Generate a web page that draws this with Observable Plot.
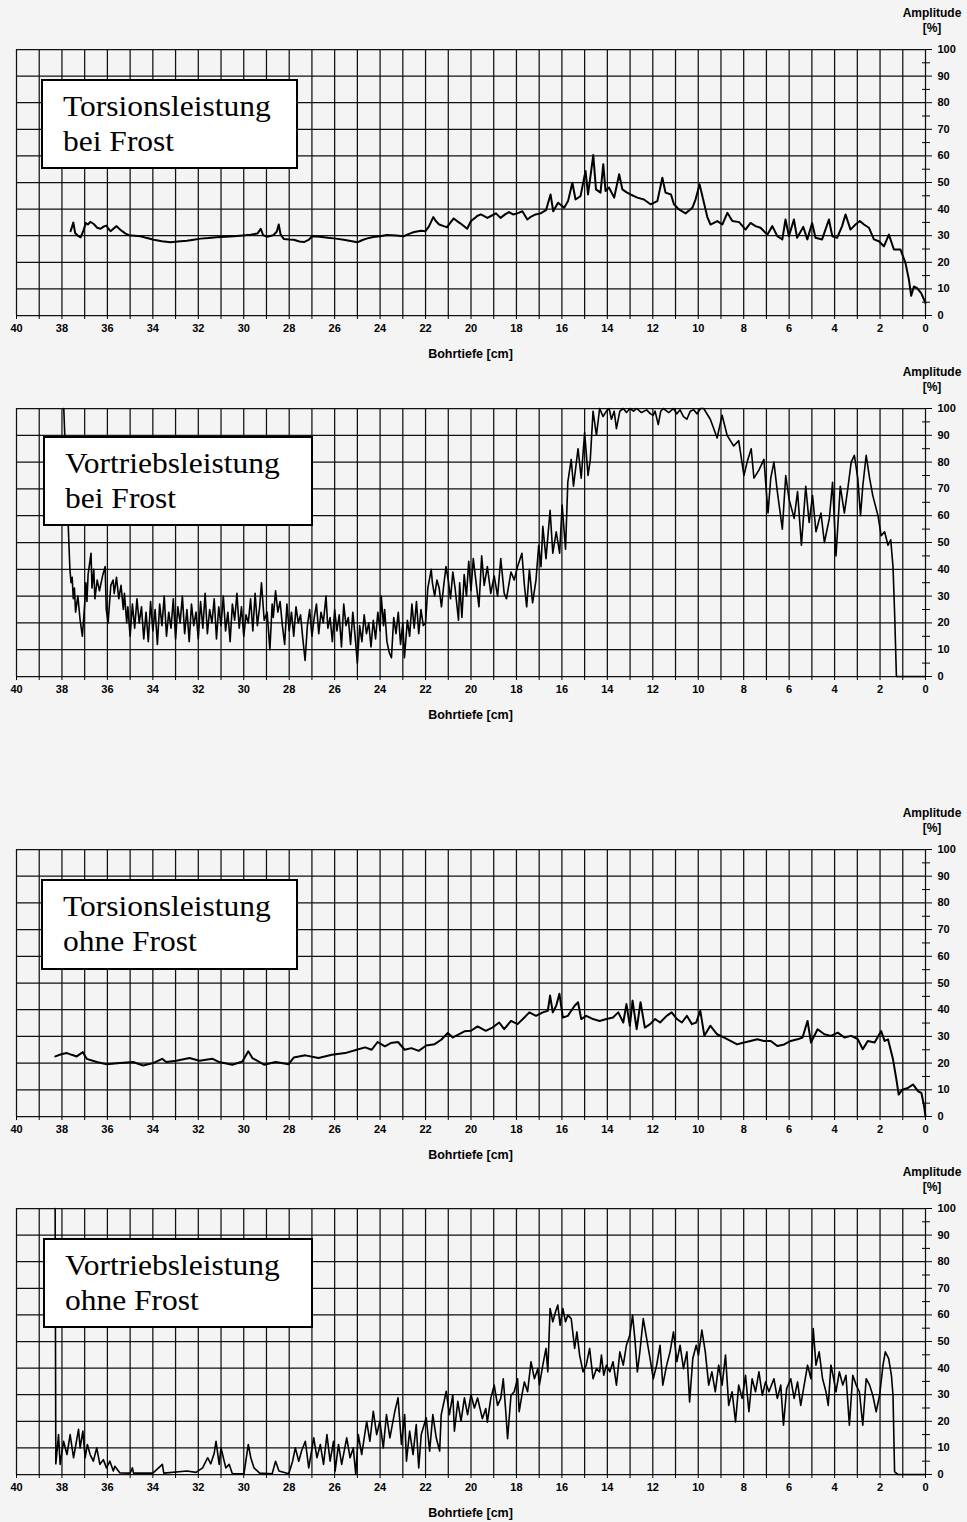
<!DOCTYPE html>
<html>
<head>
<meta charset="utf-8">
<script src="https://cdn.jsdelivr.net/npm/d3@7"></script>
<script src="https://cdn.jsdelivr.net/npm/@observablehq/plot@0.6"></script>
<style>
  html, body { margin: 0; padding: 0; background: #f4f4f4; }
  #page { position: relative; width: 967px; height: 1522px; overflow: hidden; background: #f4f4f4; }
  .panel { position: absolute; left: 0; }
  .box { position: absolute; box-sizing: border-box; border: 2.5px solid #000; background: #fff;
         font-family: "Liberation Serif", "Times New Roman", serif; font-size: 30px; line-height: 35px;
         color: #000; padding: 7.2px 0 0 19.5px; white-space: nowrap; }
  .box div { transform: scaleX(1.05); transform-origin: left center; }
  .amp { position: absolute; width: 80px; text-align: center; font-family: "Liberation Sans", Arial, sans-serif;
         font-weight: bold; font-size: 12px; line-height: 15px; color: #000; }
  .xlab { position: absolute; width: 200px; text-align: center; font-family: "Liberation Sans", Arial, sans-serif;
          font-weight: bold; font-size: 12.5px; line-height: 14px; color: #000; }
</style>
</head>
<body>
<div id="page"></div>
<script>
// ---------------- data ----------------
const xTicks = [40,39,38,37,36,35,34,33,32,31,30,29,28,27,26,25,24,23,22,21,20,19,18,17,16,15,14,13,12,11,10,9,8,7,6,5,4,3,2,1,0];
const xLabelTicks = [40,38,36,34,32,30,28,26,24,22,20,18,16,14,12,10,8,6,4,2,0];
const yTicks = [0,10,20,30,40,50,60,70,80,90,100];
const yMinorTicks = [5,15,25,35,45,55,65,75,85,95];
const xTitle = "Bohrtiefe [cm]";
const yTitle = ["Amplitude", "[%]"];
const panelTitles = [
  ["Torsionsleistung", "bei Frost"],
  ["Vortriebsleistung", "bei Frost"],
  ["Torsionsleistung", "ohne Frost"],
  ["Vortriebsleistung", "ohne Frost"]
];

// [Bohrtiefe cm, Amplitude %]
const torsionFrost = [[37.62,31.7],[37.55,33.5],[37.5,35],[37.42,31],[37.3,30],[37.18,29.4],[37.05,32],[36.95,34.8],[36.86,34.2],[36.75,35.2],[36.6,34.4],[36.45,33],[36.3,32.6],[36.15,33.5],[36.04,33.8],[35.95,32.5],[35.86,31.7],[35.75,32.5],[35.6,33.6],[35.48,32.6],[35.35,31.7],[35.2,30.8],[35.06,30.2],[34.8,30],[34.55,29.8],[34.25,29.1],[33.96,28.5],[33.6,27.9],[33.23,27.5],[32.9,27.8],[32.5,28.1],[32.2,28.5],[31.9,28.9],[31.55,29.1],[31.2,29.4],[30.8,29.6],[30.43,29.8],[30.05,30.1],[29.7,30.4],[29.4,30.8],[29.25,32.6],[29.15,30.2],[28.97,29.6],[28.7,30.2],[28.55,31.5],[28.46,34.2],[28.38,30.5],[28.24,28.8],[28.0,28.6],[27.8,28.5],[27.55,27.8],[27.35,27.6],[27.15,28.4],[26.99,29.8],[26.65,29.6],[26.3,29.2],[25.95,28.9],[25.6,28.5],[25.3,28.0],[25.0,27.5],[24.8,28.3],[24.6,28.9],[24.3,29.5],[24.0,29.8],[23.7,30.3],[23.3,30.1],[22.96,29.8],[22.7,30.8],[22.5,31.4],[22.2,31.9],[22.0,31.7],[21.85,33.5],[21.66,37.0],[21.55,35.5],[21.4,34.2],[21.2,33.6],[21.05,33.2],[20.9,35.0],[20.76,36.5],[20.6,35.4],[20.4,34.2],[20.17,32.6],[20.0,35.5],[19.85,36.5],[19.73,37.4],[19.57,38],[19.4,37.3],[19.28,36.7],[19.1,37.5],[18.9,38.4],[18.7,36.7],[18.5,38.0],[18.33,38.9],[18.15,38.0],[17.96,38.4],[17.74,39.2],[17.52,36.1],[17.35,37.2],[17.16,38.0],[16.94,38.4],[16.7,39.6],[16.5,45.5],[16.38,39.2],[16.17,42.4],[15.9,40.5],[15.73,43.0],[15.54,49.9],[15.4,43.6],[15.18,44.9],[14.96,54.3],[14.85,45.5],[14.62,60.3],[14.5,47.4],[14.3,46.2],[14.18,56.9],[14.08,46.8],[13.93,48.1],[13.7,44.3],[13.48,53.1],[13.34,47.4],[13.15,46.3],[12.98,45.5],[12.68,44.3],[12.39,43.6],[12.1,41.8],[11.8,43.0],[11.58,51.8],[11.44,46.2],[11.2,45.5],[11.07,41.8],[10.85,39.9],[10.56,38.4],[10.26,40.5],[10.12,43.6],[9.94,49.3],[9.75,42.4],[9.6,37.0],[9.46,34.2],[9.16,35.5],[8.94,34.2],[8.72,38.6],[8.5,35.5],[8.2,35.1],[7.92,32.3],[7.7,34.8],[7.48,33.6],[7.26,33.0],[6.96,30.4],[6.74,33.6],[6.52,29.8],[6.3,28.6],[6.16,36.1],[6.01,29.8],[5.79,36.1],[5.65,29.2],[5.38,33.3],[5.2,28.6],[4.99,34.8],[4.84,29.2],[4.55,28.6],[4.25,36.1],[4.1,29.8],[3.89,29.2],[3.67,33.6],[3.52,38.0],[3.3,32.3],[3.08,34.2],[2.89,35.5],[2.71,34.2],[2.49,33.0],[2.27,28.6],[2.05,27.9],[1.83,26.0],[1.61,30.4],[1.39,24.8],[1.1,24.8],[0.88,19.7],[0.73,13.5],[0.63,7.4],[0.51,10.9],[0.37,10.3],[0.19,8.4],[0.0,4.7]];

const vortriebFrost = [[37.92,100],[37.65,40],[37.6,35],[37.55,37],[37.5,29],[37.45,33],[37.4,24],[37.3,30],[37.2,21],[37.1,15],[37.0,27],[36.95,35],[36.9,28],[36.85,38],[36.72,46],[36.68,33],[36.6,40],[36.55,29],[36.45,36],[36.35,32],[36.2,38],[36.1,41],[36.05,25],[35.97,20],[35.85,34],[35.75,36],[35.7,31],[35.6,37],[35.5,29],[35.4,34],[35.3,25],[35.25,31],[35.15,20],[35.1,26],[35.0,15],
[34.9,27],[34.8,18],[34.7,29],[34.6,20],[34.5,26],[34.4,14],[34.3,24],[34.2,13],[34.1,28],[34.0,17],[33.9,25],[33.8,12],[33.7,27],[33.6,19],[33.5,30],[33.4,15],[33.3,24],[33.2,18],[33.1,29],[33.0,14],[32.9,26],[32.8,20],[32.7,30],[32.6,16],[32.5,25],[32.4,13],[32.3,27],[32.2,19],[32.1,24],[32.0,14],[31.9,28],[31.8,18],[31.7,31],[31.6,16],[31.5,25],[31.4,20],[31.3,29],[31.2,14],[31.1,26],[31.0,19],[30.9,30],[30.8,17],[30.7,24],[30.6,13],[30.5,27],[30.4,21],[30.3,31],[30.2,18],[30.1,26],[30.0,15],[29.9,23],[29.8,20],[29.7,29],[29.6,17],[29.5,31],[29.4,19],[29.3,26],[29.22,35],[29.1,21],[28.97,24],[28.85,10],[28.75,27],[28.7,22],[28.6,32],[28.5,24],[28.4,28],[28.3,19],[28.2,12],[28.1,27],[28.0,17],[27.9,24],[27.8,15],[27.7,26],[27.6,20],[27.5,23],[27.4,14],[27.3,6],[27.2,19],[27.1,25],[27.0,15],[26.9,22],[26.8,27],[26.7,16],[26.6,24],[26.5,20],[26.38,30],[26.3,18],[26.2,22],[26.1,13],[26.0,25],[25.9,17],[25.8,23],[25.7,11],[25.6,27],[25.5,19],[25.4,22],[25.3,12],[25.2,24],[25.1,15],[25.0,5],[24.9,19],[24.8,13],[24.7,23],[24.6,16],[24.5,20],[24.4,11],[24.3,21],[24.2,14],[24.1,24],[24.0,17],[23.95,30],[23.85,19],[23.8,25],[23.7,13],[23.6,9],[23.5,7],[23.4,22],[23.3,16],[23.2,24],[23.1,12],[23.0,20],[22.93,7],[22.8,21],[22.7,15],[22.6,27],[22.5,18],[22.4,28],[22.3,16],[22.2,25],[22.1,19],[22.0,20],[21.9,33],[21.75,40],[21.7,35],[21.6,30],[21.5,36],[21.4,33],[21.3,26],[21.2,34],[21.1,41],[21.0,36],[20.9,29],[20.8,39],[20.7,33],[20.55,21],[20.5,35],[20.4,22],[20.3,38],[20.2,30],[20.1,43],[20.0,32],[19.9,44],
[19.65,26],[19.53,45],[19.42,34],[19.28,41],[19.13,31],[18.98,37.5],[18.83,30],[18.69,44],[18.54,31],[18.44,29],[18.24,39],[18.1,36],[17.95,41],[17.76,46],[17.65,34],[17.55,26],[17.43,40],[17.29,27.5],[17.14,36],[17.02,49],[16.92,41],[16.84,56],[16.7,44],[16.52,62],[16.4,46],[16.25,54],[16.1,46],[15.99,64],[15.84,47.5],[15.74,72.5],[15.59,81],[15.49,71],[15.29,85],[15.15,74],[15.0,91],[14.85,75],[14.75,81],[14.63,99],[14.48,90],[14.34,100],[14.19,97],[14.04,99],[13.92,100],[13.82,96],[13.7,99],[13.6,92.5],[13.45,99],[13.3,100],[13.16,98.5],[13.0,100],[12.85,99],[12.71,100],[12.5,98.5],[12.27,99.5],[12.1,98],[11.98,97.5],[11.9,99],[11.76,94],[11.65,99],[11.53,100],[11.3,98.5],[11.09,100],[10.95,98],[10.8,99.5],[10.65,97],[10.5,96],[10.35,99],[10.2,99.5],[10.05,98],[9.9,100],[9.76,100],[9.47,96],[9.32,92.5],[9.17,89],[8.95,97.5],[8.73,90],[8.44,86],[8.22,88],[7.99,75],[7.85,80],[7.67,85],[7.55,74],[7.33,77],[7.11,81],[6.93,61],[6.81,74],[6.67,80],[6.52,69],[6.3,55],[6.15,75],[6.0,66],[5.78,59],[5.63,69],[5.46,49],[5.27,71],[5.12,57.5],[4.97,67.5],[4.82,54],[4.6,61],[4.45,50],[4.23,59],[4.09,72.5],[3.94,45],[3.75,71],[3.57,61],[3.42,70],[3.27,80],[3.13,82.5],[2.98,74],[2.86,60],[2.76,71],[2.61,82.5],[2.46,74],[2.32,67.5],[2.09,60],[1.95,52.5],[1.8,54],[1.65,49],[1.53,51],[1.43,41],[1.36,24],[1.28,0],[0.0,0]];

const torsionOhne = [[38.29,22.5],[38.0,23.4],[37.78,23.75],[37.57,23.1],[37.35,22.5],[37.08,24.1],[36.91,21.6],[36.47,20.4],[36.03,19.6],[35.45,20],[34.87,20.4],[34.43,19.1],[33.99,20],[33.59,21.6],[33.41,20.4],[32.97,20.9],[32.39,21.9],[31.95,20.9],[31.37,21.6],[31.08,20.4],[30.5,19.4],[30.06,20.6],[29.8,24.4],[29.62,21.9],[29.11,19.4],[28.6,20.4],[28.02,19.6],[27.8,22.1],[27.29,22.9],[26.71,21.9],[26.12,23.1],[25.54,23.75],[25.03,25],[24.66,25.9],[24.37,25],[24.11,27.9],[23.79,26.3],[23.53,27.5],[23.21,27.9],[22.92,25],[22.62,25.6],[22.3,24.6],[21.97,26.6],[21.6,27.1],[21.31,28.75],[21.02,31.25],[20.8,29.6],[20.58,30.6],[20.29,31.9],[20.0,32.1],[19.71,33.75],[19.35,32.1],[19.06,33.3],[18.76,35.2],[18.54,32.7],[18.24,35.8],[17.95,34.6],[17.65,37.1],[17.43,39.0],[17.14,37.7],[16.84,39.0],[16.62,39.6],[16.52,45.3],[16.4,39.0],[16.25,41.5],[16.11,46.0],[15.96,37.1],[15.74,37.7],[15.44,41.5],[15.29,42.8],[15.15,36.5],[14.93,37.7],[14.63,36.5],[14.34,35.8],[14.04,36.5],[13.75,37.1],[13.52,39.0],[13.3,35.2],[13.16,42.1],[13.01,34.0],[12.89,43.4],[12.71,32.7],[12.54,42.8],[12.35,33.3],[12.12,34.6],[11.9,36.5],[11.68,35.2],[11.39,37.7],[11.17,39.0],[10.94,36.5],[10.72,35.2],[10.5,37.7],[10.28,34.6],[10.09,35.2],[9.91,39.6],[9.73,30.2],[9.47,34.0],[9.17,30.8],[8.88,29.6],[8.58,28.3],[8.29,27.0],[7.99,27.7],[7.7,28.3],[7.4,28.9],[7.11,28.3],[6.81,28.3],[6.52,26.4],[6.22,27.0],[5.93,28.3],[5.63,28.9],[5.41,29.6],[5.19,35.8],[5.04,27.7],[4.75,32.7],[4.45,30.8],[4.16,30.2],[3.86,31.4],[3.57,29.6],[3.27,30.2],[2.98,29.0],[2.76,25.2],[2.54,28.3],[2.24,27.7],[1.95,32.0],[1.8,28.3],[1.65,28.9],[1.43,21.4],[1.28,13.8],[1.18,8.2],[1.03,10],[0.77,10.7],[0.55,12.0],[0.32,9.4],[0.18,8.8],[0.06,3.8],[0.0,0]];

const vortriebOhne = [[38.3,100],[38.27,4],[38.15,15],[38.08,3.8],[37.93,12.5],[37.78,7.5],[37.64,15],[37.49,6.3],[37.27,17.0],[37.2,10],[37.08,16.3],[36.98,6.3],[36.88,11.3],[36.76,7.5],[36.62,5],[36.47,10],[36.33,3.8],[36.18,5.6],[36.04,2.5],[35.89,5],[35.74,1.3],[35.67,3.1],[35.45,0.6],[35.0,0.5],[34.9,2.5],[34.85,0.5],[34.0,0.5],[33.58,3.8],[33.52,0.5],[32.5,1.3],[32.1,0.8],[31.81,2.5],[31.59,6.3],[31.45,4],[31.3,8],[31.22,12.5],[31.08,3.8],[31.0,10],[30.79,2.5],[30.64,3.8],[30.5,0.3],[29.99,0.3],[29.8,11.3],[29.69,6.3],[29.55,2.5],[29.3,0.5],[28.75,0.3],[28.6,5],[28.45,1.3],[28.02,0.3],[27.85,5],[27.73,10],[27.58,5],[27.45,9],[27.29,12.5],[27.14,2.5],[26.92,13.8],[26.78,6.3],[26.63,11.3],[26.49,3.8],[26.34,15],[26.2,5],[26.05,12.5],[25.98,1.3],[25.83,11.3],[25.69,3.8],[25.47,13.8],[25.32,6.3],[25.18,10],[25.07,0],[24.96,15],[24.81,7.5],[24.59,20],[24.45,12.5],[24.3,23.8],[24.15,15],[24.01,20],[23.86,10],[23.72,22.5],[23.57,13.8],[23.35,23.8],[23.21,28.8],[23.06,11.3],[22.92,22.5],[22.84,5],[22.7,16.3],[22.55,7.5],[22.41,18.8],[22.3,2.5],[22.19,15],[21.97,21.3],[21.82,8.8],[21.68,22.5],[21.53,13.8],[21.38,8.8],[21.31,22.5],[21.09,31.3],[20.95,22.5],[20.8,30],[20.73,16.3],[20.58,27.5],[20.44,20],[20.29,28.8],[20.15,22.5],[20.0,30],[19.85,25],[19.71,28.8],
[19.5,21],[19.35,24.8],[19.28,19.7],[19.13,28.6],[18.98,33.6],[18.83,26],[18.69,28.6],[18.58,36],[18.47,23.6],[18.39,13.5],[18.24,29.8],[18.1,31.1],[17.95,36],[17.88,23.6],[17.76,29.8],[17.65,34.8],[17.51,31.1],[17.36,42.4],[17.21,36],[17.06,39.8],[16.99,33.6],[16.84,41.1],[16.7,47.4],[16.62,38.6],[16.52,62.4],[16.4,57.4],[16.28,61.2],[16.18,63.7],[16.08,56.1],[15.96,62.4],[15.84,57.4],[15.74,59.9],[15.59,58.6],[15.44,47.4],[15.34,53.6],[15.22,44.9],[15.07,38.6],[14.93,41.1],[14.78,47.4],[14.63,36],[14.48,39.8],[14.34,38.6],[14.26,44.9],[14.16,37.3],[14.04,41.1],[13.89,38.6],[13.75,42.4],[13.6,33.6],[13.45,46.1],[13.3,41.1],[13.16,48.6],[13.01,52.4],[12.89,59.9],[12.79,51.1],[12.68,38.6],[12.57,46.1],[12.42,58.6],[12.27,51.1],[12.12,43.6],[11.98,36],[11.83,41.1],[11.68,48.6],[11.56,33.6],[11.39,41.1],[11.24,46.1],[11.09,53.6],[10.94,42.4],[10.8,48.6],[10.65,39.8],[10.5,46.1],[10.38,27.3],[10.24,43.6],[10.09,48.6],[9.99,44.9],[9.84,54.3],[9.69,46.1],[9.54,33.6],[9.4,38.6],[9.25,31.1],[9.1,41.1],[8.95,33.6],[8.8,44.9],[8.66,26],[8.51,31.1],[8.36,19.8],[8.22,33.6],[8.07,28.6],[7.92,37.3],[7.77,23.6],[7.63,36],[7.48,31.1],[7.33,38.6],[7.18,29.8],[7.04,34.8],[6.89,31.1],[6.67,36],[6.52,28.6],[6.37,33.6],[6.25,18.5],[6.11,32.3],[5.93,36],[5.78,28.6],[5.63,34.8],[5.49,26],[5.34,33.6],[5.19,41.1],[5.04,36],[4.94,54.9],[4.82,41.1],[4.68,46.1],[4.53,36],[4.38,31.1],[4.28,26],[4.16,41.1],[4.04,36],[3.94,31.1],[3.79,38.6],[3.64,33.6],[3.5,37.3],[3.35,18.5],[3.2,37.3],[3.05,33.6],[2.91,31.1],[2.76,18.5],[2.61,36],[2.46,33.6],[2.32,29.8],[2.17,23.6],[2.02,29.8],[1.87,41.1],[1.77,46.1],[1.62,43.6],[1.5,37.3],[1.43,29.8],[1.36,1],[1.21,0],[0.0,0]];

// ---------------- layout ----------------
const panels = [
  {data: torsionFrost,  title: panelTitles[0], top: 49,   bottom: 315,  box: {left: 41, top: 79,   w: 257, h: 90}, sw: 2.0},
  {data: vortriebFrost, title: panelTitles[1], top: 408,  bottom: 676,  box: {left: 43, top: 436,  w: 270, h: 90}, sw: 1.6},
  {data: torsionOhne,   title: panelTitles[2], top: 849,  bottom: 1116, box: {left: 41, top: 879,  w: 257, h: 91}, sw: 2.0},
  {data: vortriebOhne,  title: panelTitles[3], top: 1208, bottom: 1474, box: {left: 43, top: 1238, w: 270, h: 90}, sw: 1.6}
];

const page = document.getElementById("page");
const MT = 45, MB = 47, ML = 16, MR = 42;
const gridStyle = {stroke: "#111", strokeOpacity: 1, strokeWidth: 1.25};

for (const p of panels) {
  const chart = Plot.plot({
    width: 967,
    height: MT + (p.bottom - p.top) + MB,
    marginTop: MT, marginBottom: MB, marginLeft: ML, marginRight: MR,
    x: {type: "linear", domain: [40, 0]},
    y: {type: "linear", domain: [0, 100]},
    style: {background: "transparent", fontFamily: "'Liberation Sans', Arial, sans-serif", color: "#000", overflow: "visible"},
    marks: [
      Plot.gridX(xTicks, gridStyle),
      Plot.gridY(yTicks, gridStyle),
      Plot.axisX(xTicks, {anchor: "bottom", tickSize: 4, tickPadding: 5, fontSize: 11, fontWeight: "bold",
        tickFormat: d => xLabelTicks.includes(d) ? String(d) : "", label: null}),
      Plot.axisY(yTicks, {anchor: "right", tickSize: 6, tickPadding: 6, fontSize: 11, fontWeight: "bold", label: null}),
      Plot.axisY(yMinorTicks, {anchor: "right", tickSize: 8, dx: -4, tickFormat: () => "", label: null}),
      Plot.line(p.data, {x: d => d[0], y: d => d[1], stroke: "#000", strokeWidth: p.sw, strokeLinejoin: "round"})
    ]
  });
  chart.classList.add("panel");
  chart.style.top = (p.top - MT) + "px";
  page.appendChild(chart);

  const box = document.createElement("div");
  box.className = "box";
  box.style.left = p.box.left + "px";
  box.style.top = p.box.top + "px";
  box.style.width = p.box.w + "px";
  box.style.height = p.box.h + "px";
  box.innerHTML = p.title.map(t => `<div>${t}</div>`).join("");
  page.appendChild(box);

  const amp = document.createElement("div");
  amp.className = "amp";
  amp.style.left = (932 - 40) + "px";
  amp.style.top = (p.top - 43) + "px";
  amp.innerHTML = yTitle.map(t => `<div>${t}</div>`).join("");
  page.appendChild(amp);

  const xl = document.createElement("div");
  xl.className = "xlab";
  xl.style.left = (470.5 - 100) + "px";
  xl.style.top = (p.bottom + 32) + "px";
  xl.textContent = xTitle;
  page.appendChild(xl);
}
</script>
</body>
</html>
